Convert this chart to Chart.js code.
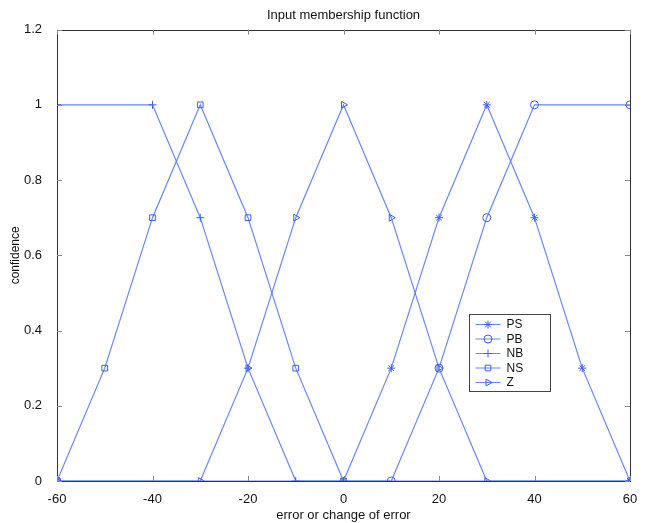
<!DOCTYPE html>
<html>
<head>
<meta charset="utf-8">
<script src="https://cdn.jsdelivr.net/npm/chart.js@4/dist/chart.umd.min.js"></script>
<style>
  html, body { margin: 0; padding: 0; background: #fff; }
  #wrap { width: 648px; height: 523px; }
</style>
</head>
<body>
<div id="wrap"><canvas id="c"></canvas></div>
<script>
// membership functions, sampled where the original plot put its markers
const psX = [0, 10, 20, 30, 40, 50, 60];
const psY = [0, 0.3, 0.7, 1, 0.7, 0.3, 0];
const pbX = [-60, 10, 20, 30, 40, 60];
const pbY = [0, 0, 0.3, 0.7, 1, 1];
const nbX = [-60, -40, -30, -20, -10, 60];
const nbY = [1, 1, 0.7, 0.3, 0, 0];
const nsX = [-60, -50, -40, -30, -20, -10, 0];
const nsY = [0, 0.3, 0.7, 1, 0.7, 0.3, 0];
const zX = [-60, -30, -20, -10, 0, 10, 20, 30, 60];
const zY = [0, 0, 0.3, 0.7, 1, 0.7, 0.3, 0, 0];

const seriesNames = ['PS', 'PB', 'NB', 'NS', 'Z'];
const markers = ['star', 'circle', 'cross', 'rect', 'triangle'];
const xTicks = [-60, -40, -20, 0, 20, 40, 60];
const yTicks = [0, 0.2, 0.4, 0.6, 0.8, 1, 1.2];

const lineCol = 'rgba(85,120,255,0.9)';
const markCol = 'rgb(60,95,245)';
const fontfam = '"Liberation Sans", Arial, Helvetica, sans-serif';

const pts = (xs, ys) => xs.map((x, i) => ({ x: x, y: ys[i] }));
const rawSets = [pts(psX, psY), pts(pbX, pbY), pts(nbX, nbY), pts(nsX, nsY), pts(zX, zY)];

const datasets = rawSets.map((d, i) => ({
    label: seriesNames[i],
    data: d,
    showLine: true,
    borderColor: lineCol,
    borderWidth: 1.2,
    pointStyle: markers[i],
    pointRotation: markers[i] === 'triangle' ? 90 : 0,
    pointRadius: 4,
    pointBorderColor: markCol,
    pointBackgroundColor: 'rgba(0,0,0,0)',
    pointBorderWidth: 1
}));

// matlab style box, inward ticks and the legend inside the axes
const boxPlugin = {
    id: 'box',
    afterDatasetsDraw(chart) {
        const ctx = chart.ctx;
        const a = chart.chartArea;
        const xs = chart.scales.x, ys = chart.scales.y;
        ctx.save();
        ctx.strokeStyle = '#333';
        ctx.lineWidth = 1;
        ctx.strokeRect(Math.round(a.left) + 0.5, Math.round(a.top) + 0.5,
            Math.round(a.right - a.left), Math.round(a.bottom - a.top));
        ctx.strokeStyle = '#888';
        ctx.beginPath();
        for (const t of xTicks) {
            const px = Math.round(xs.getPixelForValue(t)) + 0.5;
            ctx.moveTo(px, a.bottom); ctx.lineTo(px, a.bottom - 5);
            ctx.moveTo(px, a.top); ctx.lineTo(px, a.top + 5);
        }
        for (const t of yTicks) {
            const py = Math.round(ys.getPixelForValue(t)) + 0.5;
            ctx.moveTo(a.left, py); ctx.lineTo(a.left + 5, py);
            ctx.moveTo(a.right, py); ctx.lineTo(a.right - 5, py);
        }
        ctx.stroke();

        // legend
        const lx = 469.5, ly = 314.5, lw = 81, lh = 77;
        ctx.fillStyle = '#fff';
        ctx.fillRect(lx, ly, lw, lh);
        ctx.strokeStyle = '#444';
        ctx.strokeRect(lx, ly, lw, lh);
        ctx.font = '12px ' + fontfam;
        ctx.textBaseline = 'middle';
        seriesNames.forEach((name, i) => {
            const y = ly + 10 + i * 14.5;
            ctx.strokeStyle = lineCol;
            ctx.beginPath();
            ctx.moveTo(lx + 6, y); ctx.lineTo(lx + 31, y);
            ctx.stroke();
            ctx.strokeStyle = markCol;
            ctx.fillStyle = 'rgba(0,0,0,0)';
            Chart.helpers.drawPoint(ctx, {
                pointStyle: markers[i],
                radius: 4,
                rotation: markers[i] === 'triangle' ? 90 : 0,
                borderWidth: 1
            }, lx + 18.5, y);
            ctx.fillStyle = '#111';
            ctx.fillText(name, lx + 37, y + 0.5);
        });
        ctx.restore();
    }
};

new Chart(document.getElementById('c'), {
    type: 'scatter',
    data: { datasets: datasets },
    plugins: [boxPlugin],
    options: {
        responsive: true,
        maintainAspectRatio: false,
        animation: false,
        layout: { padding: { left: 0, right: 18, top: 0, bottom: 0 } },
        scales: {
            x: {
                type: 'linear',
                min: -60, max: 60,
                afterBuildTicks: s => { s.ticks = xTicks.map(v => ({ value: v })); },
                afterFit: s => { s.height = 42; },
                grid: { display: false },
                border: { display: false },
                ticks: { font: { family: fontfam, size: 13 }, color: '#111', padding: 3 },
                title: {
                    display: true, text: 'error or change of error',
                    font: { family: fontfam, size: 13 }, color: '#111', padding: { top: 3, bottom: 0 }
                }
            },
            y: {
                type: 'linear',
                min: 0, max: 1.2,
                afterBuildTicks: s => { s.ticks = yTicks.map(v => ({ value: v })); },
                afterFit: s => { s.width = 57; },
                grid: { display: false },
                border: { display: false },
                ticks: {
                    font: { family: fontfam, size: 13 }, color: '#111', padding: 7,
                    callback: v => String(Math.round(v * 10) / 10)
                },
                title: {
                    display: true, text: 'confidence',
                    font: { family: fontfam, size: 12 }, color: '#111', padding: { top: 8, bottom: 0 }
                }
            }
        },
        plugins: {
            legend: { display: false },
            tooltip: { enabled: false },
            title: {
                display: true,
                fullSize: false,
                text: 'Input membership function',
                font: { family: fontfam, size: 13, weight: 'normal' },
                color: '#111',
                padding: { top: 8, bottom: 6 }
            }
        }
    }
});
</script>
</body>
</html>
